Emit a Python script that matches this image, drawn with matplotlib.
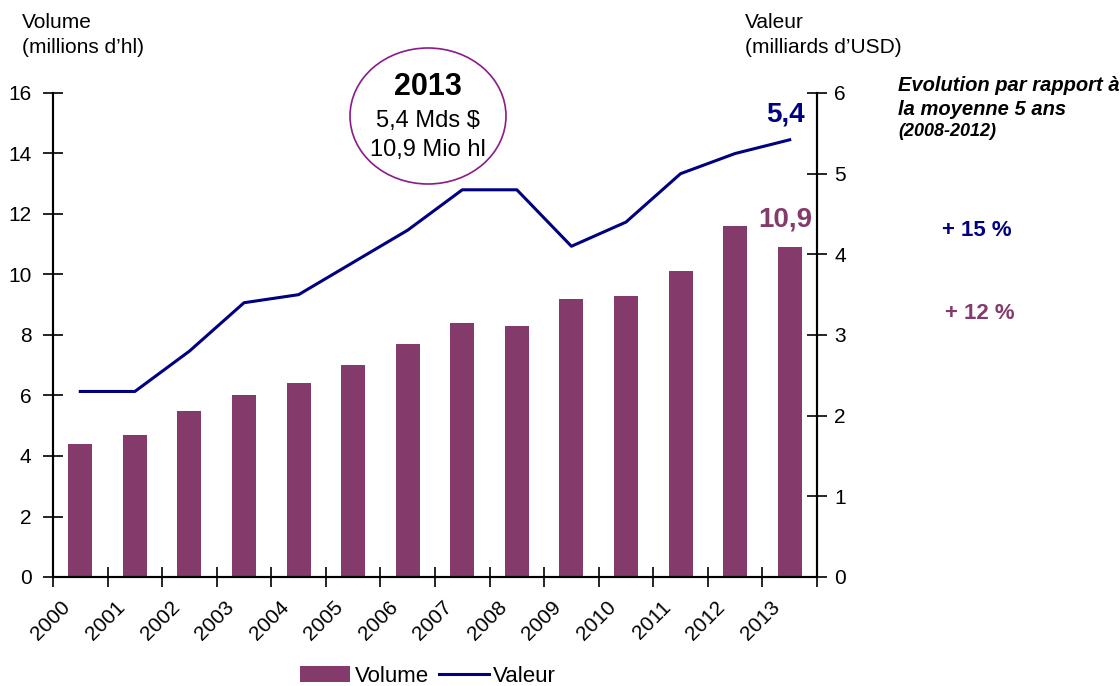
import numpy as np
import matplotlib
matplotlib.use("Agg")
import matplotlib.pyplot as plt
from matplotlib.patches import Ellipse

plt.rcParams['font.family'] = ['Liberation Sans', 'DejaVu Sans']

years = ["2000", "2001", "2002", "2003", "2004", "2005", "2006",
         "2007", "2008", "2009", "2010", "2011", "2012", "2013"]
volume = [4.4, 4.7, 5.5, 6.0, 6.4, 7.0, 7.7, 8.4, 8.3, 9.2, 9.3, 10.1, 11.6, 10.9]
valeur = [2.3, 2.3, 2.8, 3.4, 3.5, 3.9, 4.3, 4.8, 4.8, 4.1, 4.4, 5.0, 5.25, 5.42]

bar_color = "#843a6a"
line_color = "#000080"
fs = 15

fig = plt.figure(figsize=(11.2, 6.86), dpi=100)
ax = fig.add_axes([53/1120, 1 - 577/686, (817 - 53)/1120, (577 - 93)/686])
ax2 = ax.twinx()

x = np.arange(len(years))
bars = ax.bar(x, volume, width=0.44, color=bar_color, label="Volume", zorder=2)
line, = ax2.plot(x, valeur, color=line_color, lw=2.2, label="Valeur")

ax.set_xlim(-0.5, len(years) - 0.5)
ax.set_ylim(0, 16)
ax2.set_ylim(0, 6)
ax.set_yticks(range(0, 17, 2))
ax2.set_yticks(range(0, 7))

# tick marks between categories, labels near centers
ax.set_xticks(np.arange(len(years) + 1) - 0.5)
ax.set_xticklabels([])
ax.set_xticks(x - 0.36, minor=True)
ax.set_xticklabels(years, minor=True, rotation=45, ha="right", va="top",
                   rotation_mode="anchor", fontsize=15)
ax.tick_params(axis="x", which="major", direction="inout", length=14, width=1.2)
ax.tick_params(axis="x", which="minor", length=0, pad=15)
ax.tick_params(axis="y", direction="inout", length=15, width=1.2, labelsize=fs, pad=8)
ax2.tick_params(axis="y", direction="inout", length=15, width=1.2, labelsize=fs, pad=5)

for a in (ax, ax2):
    a.spines["top"].set_visible(False)
    for s in ("left", "right", "bottom"):
        a.spines[s].set_linewidth(1.5)

# axis titles
fig.text(22/1120, 1 - 13/686, "Volume\n(millions d\u2019hl)", fontsize=fs,
         ha="left", va="top", linespacing=1.42)
fig.text(745/1120, 1 - 13/686, "Valeur\n(milliards d\u2019USD)", fontsize=fs,
         ha="left", va="top", linespacing=1.42)

# 2013 bubble
ell = Ellipse((428/1120, 1 - 116/686), 156/1120, 136/686, transform=fig.transFigure,
              fill=False, edgecolor="#8b1a8b", lw=1.2)
fig.add_artist(ell)
fig.text(428/1120, 1 - 87/686, "2013", fontsize=22, fontweight="bold",
         ha="center", va="center")
fig.text(428/1120, 1 - 121/686, "5,4 Mds $", fontsize=17, ha="center", va="center")
fig.text(428/1120, 1 - 150/686, "10,9 Mio hl", fontsize=17, ha="center", va="center")

# end value labels
ax2.annotate("5,4", (x[-1], valeur[-1]), xytext=(-3, 18), textcoords="offset points",
             ha="center", va="center", fontsize=20, fontweight="bold", color=line_color)
ax.annotate("10,9", (x[-1], volume[-1]), xytext=(-3, 20), textcoords="offset points",
            ha="center", va="center", fontsize=20, fontweight="bold", color=bar_color)

# right side notes
fig.text(898/1120, 1 - 76/686, "Evolution par rapport \u00e0\nla moyenne 5 ans",
         fontsize=14.5, fontweight="bold", style="italic", ha="left", va="top",
         linespacing=1.35)
fig.text(898/1120, 1 - 123/686, "(2008-2012)", fontsize=13, fontweight="bold",
         style="italic", ha="left", va="top")
fig.text(977/1120, 1 - 230/686, "+ 15 %", fontsize=16, fontweight="bold",
         color=line_color, ha="center", va="center")
fig.text(980/1120, 1 - 313/686, "+ 12 %", fontsize=16, fontweight="bold",
         color=bar_color, ha="center", va="center")

fig.legend([bars, line], ["Volume", "Valeur"], loc="center",
           bbox_to_anchor=(428/1120, 1 - 676/686), ncol=2, frameon=False,
           fontsize=16, handlelength=2.25, handletextpad=0.2, columnspacing=0.45)

fig.savefig("out.png", dpi=100)
